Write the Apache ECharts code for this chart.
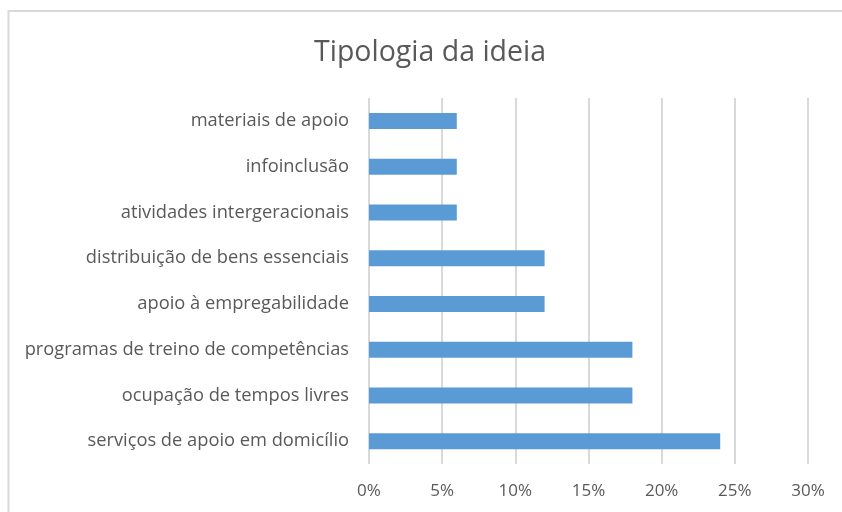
<!DOCTYPE html>
<html><head><meta charset="utf-8">
<script src="https://cdn.jsdelivr.net/npm/echarts@6/dist/echarts.min.js"></script>
<style>html,body{margin:0;padding:0;background:#fff}#c{width:842px;height:512px}</style>
</head><body><div id="c"></div>
<script>
const categories = ["serviços de apoio em domicílio","ocupação de tempos livres","programas de treino de competências","apoio à empregabilidade","distribuição de bens essenciais","atividades intergeracionais","infoinclusão","materiais de apoio"];
const values = [24, 18, 18, 12, 12, 6, 6, 6];
const chart = echarts.init(document.getElementById('c'), null, {renderer:'canvas'});
const font = '"Open Sans", "Noto Sans", sans-serif';
chart.setOption({
  animation:false,
  backgroundColor:'#fff',
  title:{text:'Tipologia da ideia', left:309, top:33, textStyle:{fontFamily:font, fontSize:28.5, fontWeight:'normal', color:'#595959'}},
  graphic:[{type:'rect', shape:{x:8.5,y:11,width:900,height:600}, style:{fill:'none', stroke:'#d9d9d9', lineWidth:2}, silent:true}],
  grid:{left:369, right:34, top:98, bottom:48},
  xAxis:{type:'value', min:0, max:30, interval:5,
    axisLine:{show:false}, axisTick:{show:false},
    splitLine:{lineStyle:{color:'#d9d9d9', width:2}},
    axisLabel:{formatter:'{value}%', margin:19, fontFamily:font, fontSize:17, color:'#595959'}},
  yAxis:{type:'category', data:categories,
    axisLine:{show:false}, axisTick:{show:false},
    axisLabel:{margin:20, fontFamily:font, fontSize:18.3, color:'#595959'}},
  series:[{type:'bar', data:values, barWidth:16, itemStyle:{color:'#5B9BD5'}}]
});
</script></body></html>
